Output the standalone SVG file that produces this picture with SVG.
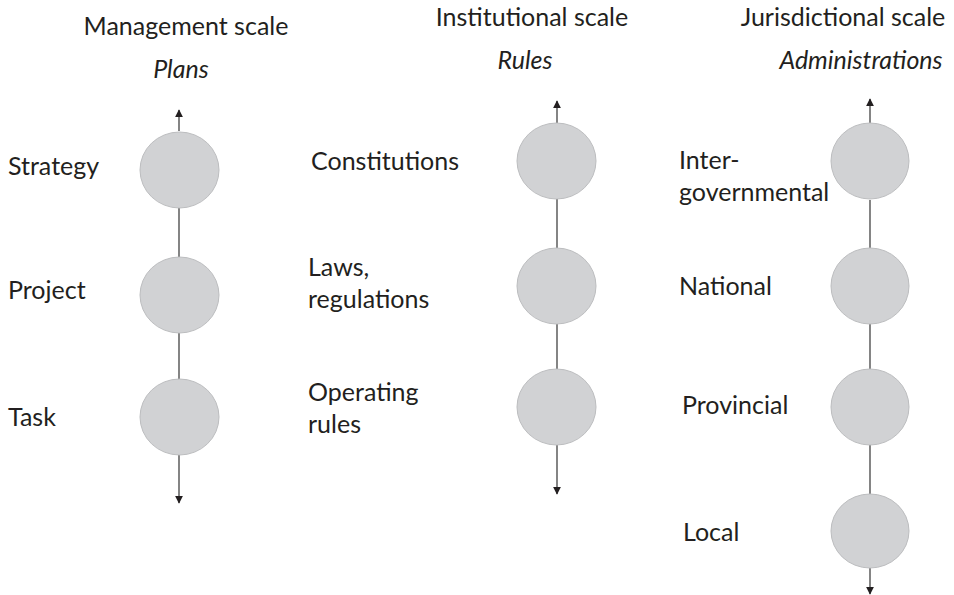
<svg xmlns="http://www.w3.org/2000/svg" width="954" height="595" viewBox="0 0 954 595">
<defs>
<style>
text{font-family:Lato,"Open Sans","Liberation Sans",sans-serif;font-size:25px;fill:#231f20}
.it{font-style:italic}
.n{fill:#d1d2d4;stroke:#bcbdbf;stroke-width:1}
.c{stroke:#333;stroke-width:1.2;fill:none}
</style>
<marker id="ah" viewBox="0 0 10 10" refX="9" refY="5" markerWidth="8" markerHeight="8" markerUnits="userSpaceOnUse" orient="auto">
<path d="M0,0 L10,5 L0,10 z" fill="#231f20"/>
</marker>
</defs>
<rect width="954" height="595" fill="#fff"/>
<g id="headers">
<text x="186" y="35" text-anchor="middle">Management scale</text>
<text x="181" y="78" text-anchor="middle" class="it">Plans</text>
<text x="532" y="26" text-anchor="middle">Institutional scale</text>
<text x="525" y="69" text-anchor="middle" class="it">Rules</text>
<text x="843" y="26" text-anchor="middle">Jurisdictional scale</text>
<text x="861" y="69" text-anchor="middle" class="it">Administrations</text>
</g>
<g id="connectors">
<line class="c" x1="179" y1="131" x2="179" y2="110" marker-end="url(#ah)"/>
<line class="c" x1="179" y1="208" x2="179" y2="257"/>
<line class="c" x1="179" y1="333" x2="179" y2="380"/>
<line class="c" x1="179" y1="455" x2="179" y2="503" marker-end="url(#ah)"/>
<line class="c" x1="557" y1="123" x2="557" y2="101" marker-end="url(#ah)"/>
<line class="c" x1="557" y1="199" x2="557" y2="248"/>
<line class="c" x1="557" y1="324" x2="557" y2="369"/>
<line class="c" x1="557" y1="445" x2="557" y2="494" marker-end="url(#ah)"/>
<line class="c" x1="870" y1="123" x2="870" y2="99" marker-end="url(#ah)"/>
<line class="c" x1="870" y1="200" x2="870" y2="248"/>
<line class="c" x1="870" y1="324" x2="870" y2="369"/>
<line class="c" x1="870" y1="445" x2="870" y2="494"/>
<line class="c" x1="870" y1="568" x2="870" y2="594" marker-end="url(#ah)"/>
</g>
<g id="strategy"><ellipse class="n" cx="179.5" cy="170" rx="39.5" ry="38"/><text x="8" y="175">Strategy</text></g>
<g id="project"><ellipse class="n" cx="179.5" cy="295" rx="39.5" ry="38"/><text x="8" y="299">Project</text></g>
<g id="task"><ellipse class="n" cx="179.5" cy="417" rx="39.5" ry="38"/><text x="8" y="426">Task</text></g>
<g id="constitutions"><ellipse class="n" cx="556.5" cy="161" rx="39.5" ry="38"/><text x="311" y="170">Constitutions</text></g>
<g id="laws"><ellipse class="n" cx="556.5" cy="286" rx="39.5" ry="38"/><text x="308" y="276">Laws,</text><text x="308" y="308">regulations</text></g>
<g id="operating"><ellipse class="n" cx="556.5" cy="407" rx="39.5" ry="38"/><text x="308" y="401">Operating</text><text x="308" y="433">rules</text></g>
<g id="intergov"><ellipse class="n" cx="870" cy="161" rx="39" ry="38"/><text x="679" y="169">Inter-</text><text x="679" y="201">governmental</text></g>
<g id="national"><ellipse class="n" cx="870" cy="286" rx="39" ry="38"/><text x="679" y="295">National</text></g>
<g id="provincial"><ellipse class="n" cx="870" cy="407" rx="39" ry="38"/><text x="682" y="414">Provincial</text></g>
<g id="local"><ellipse class="n" cx="870" cy="531" rx="39" ry="37"/><text x="683" y="541">Local</text></g>
</svg>
